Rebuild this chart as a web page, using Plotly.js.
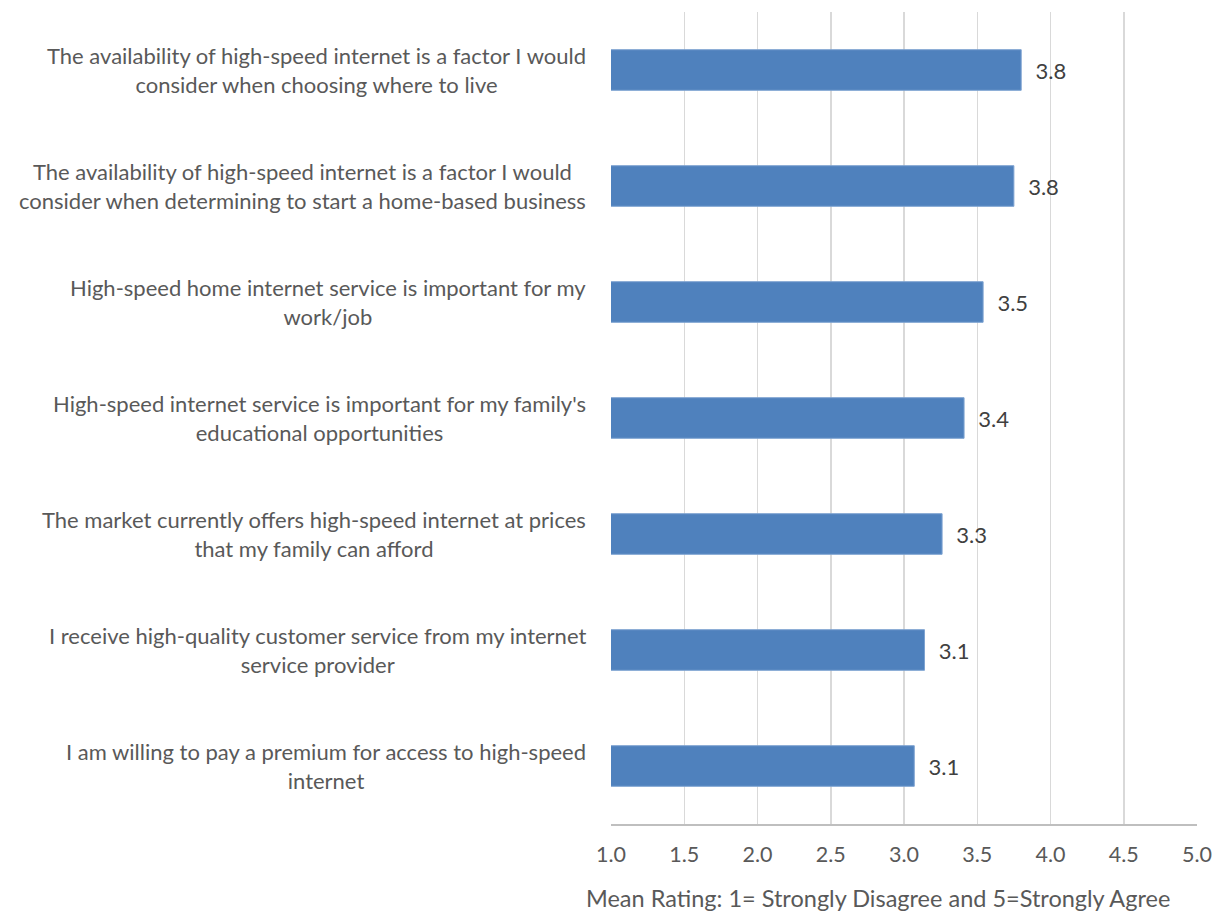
<!DOCTYPE html>
<html>
<head>
<meta charset="utf-8">
<script src="https://cdn.plot.ly/plotly-3.0.1.min.js"></script>
<style>html,body{margin:0;padding:0;background:#fff;}#chart{width:1220px;height:915px;}</style>
</head>
<body>
<div id="chart"></div>
<script>
const categories = [
  "The availability of high-speed internet is a factor I would<br>consider when choosing where to live",
  "The availability of high-speed internet is a factor I would<br>consider when determining to start a home-based business",
  "High-speed home internet service is important for my<br>work/job",
  "High-speed internet service is important for my family's<br>educational opportunities",
  "The market currently offers high-speed internet at prices<br>that my family can afford",
  "I receive high-quality customer service from my internet<br>service provider",
  "I am willing to pay a premium for access to high-speed<br>internet"
];
const meanRatings = [3.80, 3.75, 3.54, 3.41, 3.26, 3.14, 3.07];
const xTickValues = [1.0, 1.5, 2.0, 2.5, 3.0, 3.5, 4.0, 4.5, 5.0];
const xTitle = "Mean Rating: 1= Strongly Disagree and 5=Strongly Agree";

const FONT = "Lato, Open Sans, sans-serif";

const trace = {
  type: 'bar',
  orientation: 'h',
  y: categories,
  x: meanRatings,
  base: 0,
  marker: {color: '#4F81BD', line: {color: '#7EA3D1', width: 1}},
  text: meanRatings.map(v => '  ' + v.toFixed(1)),
  textposition: 'outside',
  textfont: {family: FONT, size: 22, color: '#404040'},
  cliponaxis: false,
  hoverinfo: 'skip'
};

const annotations = categories.map(c => ({
  xref: 'paper', yref: 'y',
  x: -0.04, y: c,
  xanchor: 'right', yanchor: 'middle',
  align: 'center',
  text: c,
  showarrow: false,
  font: {family: FONT, size: 22, color: '#595959'}
}));
annotations.push({
  xref: 'paper', yref: 'paper',
  x: 0.455, y: 0, yshift: -74,
  xanchor: 'center', yanchor: 'middle',
  text: xTitle,
  showarrow: false,
  font: {family: FONT, size: 23.5, color: '#595959'}
});

const layout = {
  width: 1220, height: 915,
  margin: {l: 611, r: 23, t: 12, b: 91},
  paper_bgcolor: '#ffffff',
  plot_bgcolor: '#ffffff',
  showlegend: false,
  bargap: 0.65,
  xaxis: {
    range: [1, 5],
    tickvals: xTickValues,
    ticktext: xTickValues.map(v => v.toFixed(1)),
    showgrid: true, gridcolor: '#d9d9d9', gridwidth: 1.5,
    zeroline: false,
    showline: true, linecolor: '#bfbfbf', linewidth: 1.5,
    ticks: '', ticklabelstandoff: 11,
    tickfont: {family: FONT, size: 21.5, color: '#595959'},
    fixedrange: true
  },
  yaxis: {
    type: 'category',
    autorange: 'reversed',
    showticklabels: false,
    showgrid: false, zeroline: false, showline: false,
    ticks: '',
    fixedrange: true
  },
  annotations: annotations
};

Plotly.newPlot('chart', [trace], layout, {displayModeBar: false, staticPlot: true});
</script>
</body>
</html>
